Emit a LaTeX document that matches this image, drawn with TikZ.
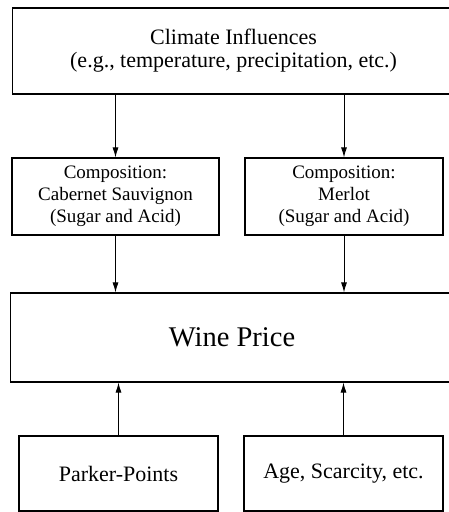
\documentclass[tikz,border=0pt]{standalone}
\usepackage{fontspec}
\setmainfont{Liberation Serif}
\usetikzlibrary{arrows.meta}
\tikzset{
  box/.style={draw, line width=1.1pt, inner sep=0pt, align=center},
  arr/.style={-{Latex[length=10pt,width=6pt]}, line width=0.9pt},
}

\begin{document}
\begin{tikzpicture}[x=1pt,y=-1pt]
 	\useasboundingbox (0,0) rectangle (449,512);
 	\clip (0,0) rectangle (449,512);
 	% top
 	\node[box, minimum width=442pt, minimum height=86pt, font=\fontsize{22}{23}\selectfont, anchor=west] (climate) at (12,51) {Climate Influences\\(e.g., temperature, precipitation, etc.)};
 	% composition
 	\node[box, minimum width=207pt, minimum height=77pt, font=\fontsize{19}{22}\selectfont] (cab) at (115.5,196.5) {Composition:\\Cabernet Sauvignon\\(Sugar and Acid)};
 	\node[box, minimum width=198pt, minimum height=77pt, font=\fontsize{19}{22}\selectfont] (merlot) at (344,196.5) {Composition:\\Merlot\\(Sugar and Acid)};
 	% price
 	\node[box, minimum width=443pt, minimum height=89pt, font=\fontsize{28.5}{30}\selectfont, anchor=west] (price) at (10,337.5) {Wine Price};
 	% other factors
 	\node[box, minimum width=199pt, minimum height=75pt, font=\fontsize{22}{24}\selectfont] (parker) at (118.5,473.5) {Parker-Points};
 	\node[box, minimum width=199pt, minimum height=75pt, font=\fontsize{22}{24}\selectfont] (age) at (343.5,473.5) {Age, Scarcity, etc.};
 	% arrows
 	\draw[arr] (climate.south -| cab.north) -- (cab.north);
 	\draw[arr] (climate.south -| merlot.north) -- (merlot.north);
 	\draw[arr] (cab.south) -- (price.north -| cab.south);
 	\draw[arr] (merlot.south) -- (price.north -| merlot.south);
 	\draw[arr] (parker.north) -- (price.south -| parker.north);
 	\draw[arr] (age.north) -- (price.south -| age.north);
\end{tikzpicture}
\end{document}
